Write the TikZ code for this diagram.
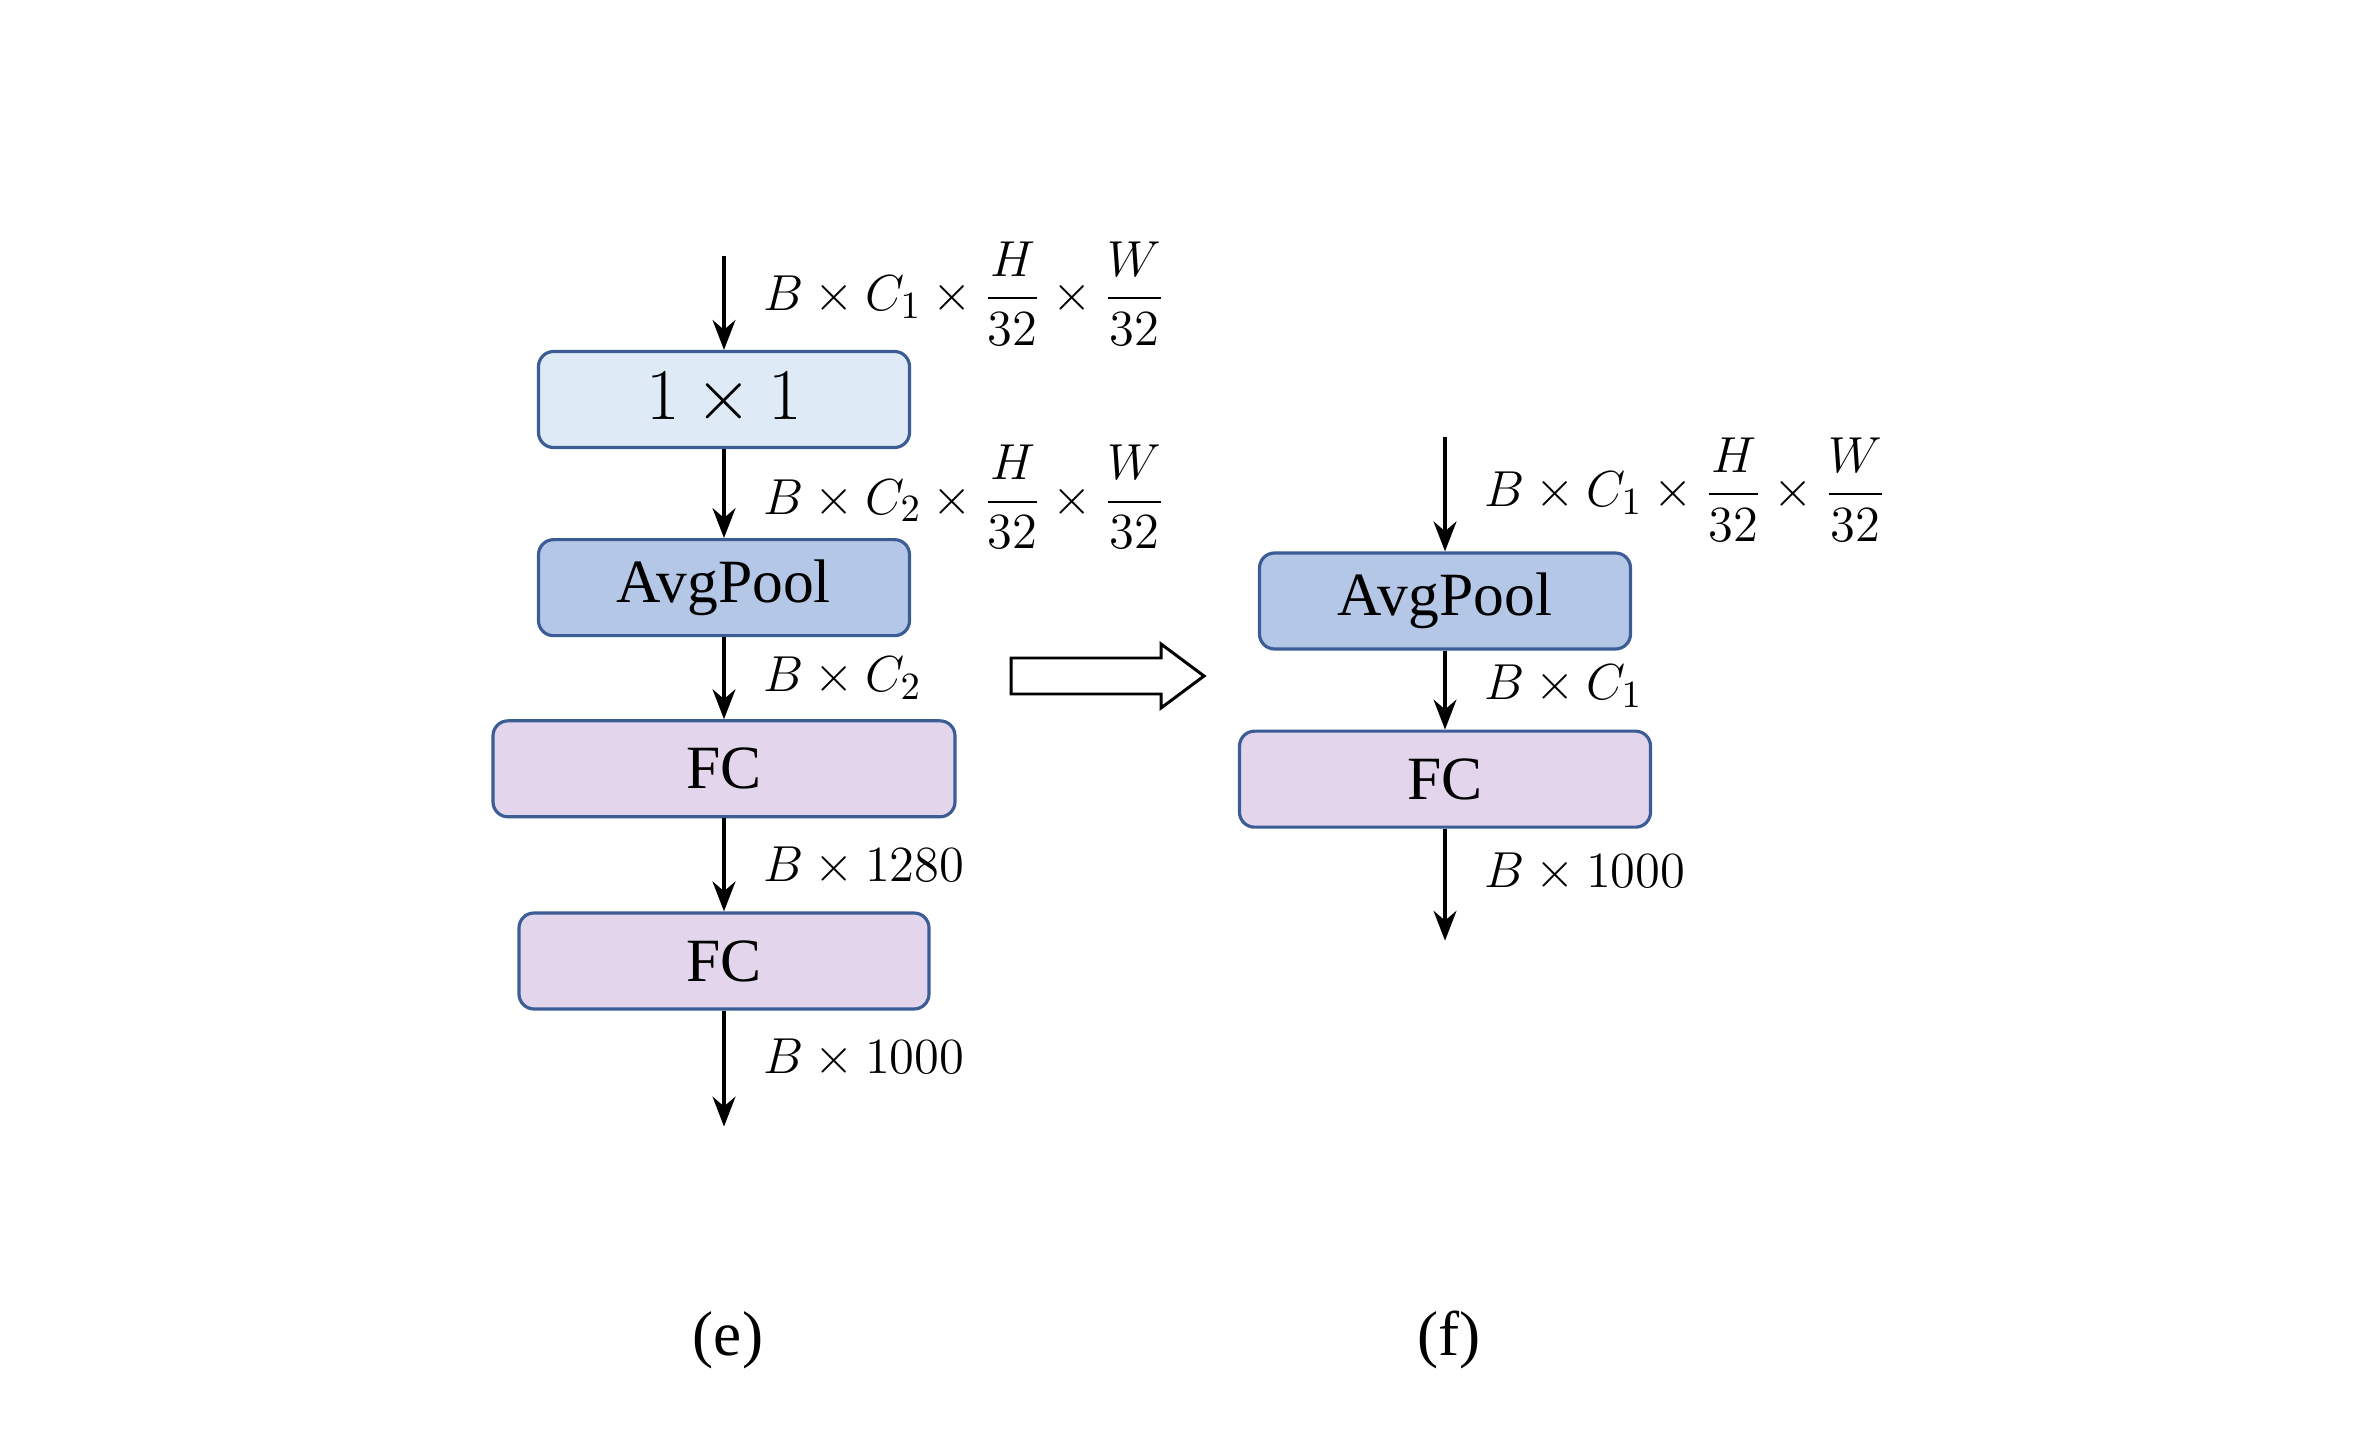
\documentclass[tikz,border=0pt]{standalone}
\usepackage{amsmath}
\usepackage{fontspec}
\setmainfont{Liberation Serif}
\usetikzlibrary{positioning,arrows.meta}

\definecolor{convfill}{HTML}{DEEBF7}
\definecolor{poolfill}{HTML}{B4C7E7}
\definecolor{fcfill}{HTML}{E3D6EC}
\definecolor{boxline}{HTML}{3B5C95}

\tikzset{
  block/.style={draw=boxline, line width=0.9pt, rounded corners=0.15cm, minimum height=0.96cm, inner sep=0pt, font=\fontsize{17.5}{20}\selectfont},
  flow/.style={-{Stealth[length=8.5pt,width=6.5pt]}, line width=1.2pt},
  dimlbl/.style={anchor=west, inner sep=0pt, xshift=0.37cm, font=\fontsize{15.5}{18}\selectfont},
  caption/.style={font=\fontsize{18}{22}\selectfont},
}

\begin{document}
\begin{tikzpicture}
  \useasboundingbox (0,0) rectangle (23.65,-14.3);

  % (e) original head
  \coordinate (ein) at (7.24,-2.56);
  \node[block, fill=convfill, minimum width=3.71cm, font=\fontsize{21}{24}\selectfont] (conv) at (7.24,-3.995) {$1\times1$};
  \node[block, fill=poolfill, minimum width=3.71cm, below=0.89cm of conv] (epool) {AvgPool};
  \node[block, fill=fcfill, minimum width=4.62cm, below=0.82cm of epool] (efca) {FC};
  \node[block, fill=fcfill, minimum width=4.10cm, below=0.93cm of efca] (efcb) {FC};
  \coordinate[below=1.16cm of efcb] (eout);

  \draw[flow] (ein) -- node[pos=0.4, dimlbl] {$B\times C_1\times\dfrac{H}{32}\times\dfrac{W}{32}$} (conv);
  \draw[flow] (conv) -- node[pos=0.54, dimlbl] {$B\times C_2\times\dfrac{H}{32}\times\dfrac{W}{32}$} (epool);
  \draw[flow] (epool) -- node[pos=0.5, dimlbl] {$B\times C_2$} (efca);
  \draw[flow] (efca) -- node[pos=0.52, dimlbl] {$B\times 1280$} (efcb);
  \draw[flow] (efcb) -- node[pos=0.41, dimlbl] {$B\times 1000$} (eout);

  % hollow arrow between the two heads
  \draw[line width=0.85pt] (10.11,-6.58) -- (11.61,-6.58) -- (11.61,-6.44) -- (12.04,-6.76)
    -- (11.61,-7.08) -- (11.61,-6.94) -- (10.11,-6.94) -- cycle;

  % (f) simplified head
  \coordinate (fin) at (14.45,-4.37);
  \node[block, fill=poolfill, minimum width=3.71cm] (fpool) at (14.45,-6.01) {AvgPool};
  \node[block, fill=fcfill, minimum width=4.11cm, below=0.79cm of fpool] (ffc) {FC};
  \coordinate[below=1.12cm of ffc] (fout);

  \draw[flow] (fin) -- node[pos=0.46, dimlbl] {$B\times C_1\times\dfrac{H}{32}\times\dfrac{W}{32}$} (fpool);
  \draw[flow] (fpool) -- node[pos=0.45, dimlbl] {$B\times C_1$} (ffc);
  \draw[flow] (ffc) -- node[pos=0.39, dimlbl] {$B\times 1000$} (fout);

  \node[caption] (ecap) at (7.28,-13.4) {(e)};
  \node[caption] (fcap) at (14.49,-13.4) {(f)};
\end{tikzpicture}
\end{document}
